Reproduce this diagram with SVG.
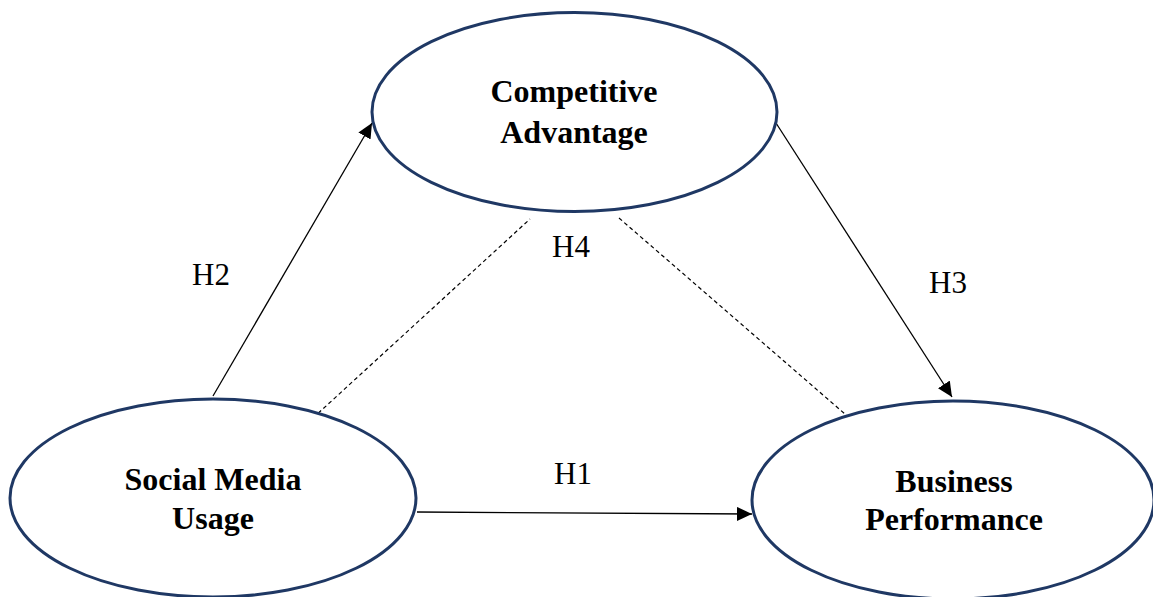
<svg xmlns="http://www.w3.org/2000/svg" width="1153" height="597" viewBox="0 0 1153 597">
<style>
.node{fill:#fff;stroke:#1F3864;stroke-width:3}
.nt{font-family:"Liberation Serif","Times New Roman",serif;font-weight:bold;font-size:32px;fill:#000;text-anchor:middle}
.lab{font-family:"Liberation Serif","Times New Roman",serif;font-size:31px;fill:#000}
.arr{stroke:#000;stroke-width:1.3;fill:none}
.dash{stroke:#000;stroke-width:1.2;fill:none;stroke-dasharray:4 3}
</style>
<defs>
<marker id="ah" markerUnits="userSpaceOnUse" markerWidth="16" markerHeight="14" refX="15" refY="7" orient="auto">
<path d="M0,0 L15,7 L0,14 z" fill="#000"/>
</marker>
</defs>
<rect width="1153" height="597" fill="#fff"/>
<g id="connectors">
<line class="arr" x1="213" y1="396" x2="372" y2="123" marker-end="url(#ah)"/>
<line class="arr" x1="776" y1="123" x2="952" y2="397" marker-end="url(#ah)"/>
<line class="arr" x1="417" y1="512" x2="752" y2="514" marker-end="url(#ah)"/>
<line class="dash" x1="313" y1="418" x2="530" y2="219"/>
<line class="dash" x1="619" y1="218" x2="853" y2="421"/>
<text class="lab" x="192" y="285">H2</text>
<text class="lab" x="929" y="293">H3</text>
<text class="lab" x="552" y="257">H4</text>
<text class="lab" x="554" y="484">H1</text>
</g>
<g id="competitive-advantage">
<ellipse class="node" cx="574.5" cy="112" rx="202.5" ry="99.5"/>
<text class="nt" x="574" y="102">Competitive</text>
<text class="nt" x="574" y="143">Advantage</text>
</g>
<g id="social-media-usage">
<ellipse class="node" cx="213" cy="498" rx="203" ry="99"/>
<text class="nt" x="213" y="490">Social Media</text>
<text class="nt" x="213" y="529">Usage</text>
</g>
<g id="business-performance">
<ellipse class="node" cx="953" cy="500" rx="201" ry="99"/>
<text class="nt" x="954" y="492">Business</text>
<text class="nt" x="954" y="530">Performance</text>
</g>
</svg>
